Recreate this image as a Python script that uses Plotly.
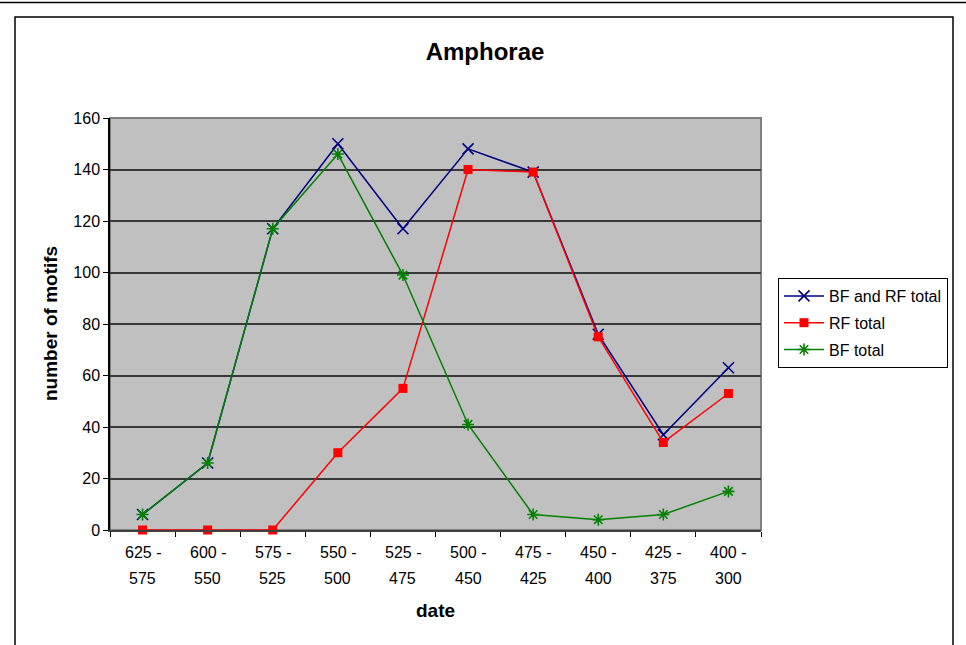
import plotly.graph_objects as go

categories = ["625 - 575", "600 - 550", "575 - 525", "550 - 500", "525 - 475",
              "500 - 450", "475 - 425", "450 - 400", "425 - 375", "400 - 300"]
bf_and_rf_total = [6, 26, 117, 150, 117, 148, 139, 76, 37, 63]
rf_total = [0, 0, 0, 30, 55, 140, 139, 75, 34, 53]
bf_total = [6, 26, 117, 146, 99, 41, 6, 4, 6, 15]
y_ticks = [0, 20, 40, 60, 80, 100, 120, 140, 160]

# body margin is removed by the post script, so figure pixels == screen pixels
W, H = 966, 645
L, R, T, B = 110, 761, 118, 530
pw, ph = R - L, B - T


def px_x(px):
    return (px - L) / pw


def px_y(py):
    return (B - py) / ph


FONT = "Liberation Sans, Arial, sans-serif"

fig = go.Figure()
fig.add_trace(go.Scatter(
    x=categories, y=bf_and_rf_total, name="BF and RF total", mode="lines+markers",
    legendgroup="a", cliponaxis=False,
    line=dict(color="#000080", width=1.5),
    marker=dict(symbol="x-thin-open", size=11, color="#000080", line=dict(width=1.6, color="#000080")),
))
fig.add_trace(go.Scatter(
    x=categories, y=rf_total, name="RF total", mode="lines+markers",
    legendgroup="b", cliponaxis=False,
    line=dict(color="#FF0000", width=1.5),
    marker=dict(symbol="square", size=9, color="#FF0000", line=dict(width=0)),
))
fig.add_trace(go.Scatter(
    x=categories, y=bf_total, name="BF total", mode="lines+markers",
    legendgroup="c", cliponaxis=False,
    line=dict(color="#008000", width=1.5),
    marker=dict(symbol="asterisk-open", size=10, color="#008000", line=dict(width=1.6, color="#008000")),
))

shapes = [
    dict(type="line", xref="paper", yref="paper", x0=px_x(0), x1=px_x(966), y0=px_y(2.5), y1=px_y(2.5),
         line=dict(color="black", width=1.5), layer="above"),
    dict(type="rect", xref="paper", yref="paper", x0=px_x(15), x1=px_x(953), y0=px_y(660), y1=px_y(17),
         line=dict(color="black", width=1.5), layer="below"),
    dict(type="rect", xref="paper", yref="paper", x0=0, x1=1, y0=0, y1=1,
         line=dict(color="#808080", width=2), layer="below"),
]

annotations = [
    dict(text="<b>number of motifs</b>", xref="paper", yref="paper", x=px_x(50), y=px_y(324),
         textangle=-90, showarrow=False, font=dict(family=FONT, size=19, color="black"),
         xanchor="center", yanchor="middle"),
    dict(text="<b>date</b>", xref="paper", yref="paper", x=px_x(435), y=px_y(610),
         showarrow=False, font=dict(family=FONT, size=19, color="black"),
         xanchor="center", yanchor="middle"),
]
for c in categories:
    a, b = c.split(" - ")
    annotations.append(dict(text=a + " -", x=c, xref="x", yref="paper", y=px_y(552), showarrow=False,
                            font=dict(family=FONT, size=16, color="black"), xanchor="center", yanchor="middle"))
    annotations.append(dict(text=b, x=c, xref="x", yref="paper", y=px_y(578), showarrow=False,
                            font=dict(family=FONT, size=16, color="black"), xanchor="center", yanchor="middle"))

fig.update_layout(
    width=W, height=H,
    margin=dict(l=L, r=W - R, t=T, b=H - B, autoexpand=False),
    paper_bgcolor="white",
    plot_bgcolor="#C0C0C0",
    font=dict(family=FONT, size=16, color="black"),
    title=dict(text="<b>Amphorae</b>", x=485 / W, xanchor="center", y=1 - 52 / H,
               yanchor="middle", font=dict(family=FONT, size=24, color="black")),
    showlegend=True,
    legend=dict(x=px_x(778), y=px_y(278), xanchor="left", yanchor="top",
                bordercolor="black", borderwidth=1, bgcolor="white",
                font=dict(family=FONT, size=16, color="black"),
                tracegroupgap=3, itemwidth=40),
    shapes=shapes,
    annotations=annotations,
)
fig.update_xaxes(
    type="category", categoryorder="array", categoryarray=categories,
    range=[-0.5, len(categories) - 0.5],
    tickson="boundaries", ticks="outside", ticklen=5, tickcolor="black", tickwidth=1,
    showticklabels=False, showgrid=False, zeroline=False,
    showline=True, linecolor="#404040", linewidth=2,
)
fig.update_yaxes(
    range=[0, 160], tickvals=y_ticks, ticks="outside", ticklen=5, tickcolor="black", tickwidth=1,
    showgrid=True, gridcolor="#383838", gridwidth=1.5, zeroline=False,
    showline=True, linecolor="black", linewidth=1.5,
    tickfont=dict(family=FONT, size=16, color="black"),
)

fig.write_html(
    "out.html",
    config={"displayModeBar": False},
    post_script="document.body.style.margin='0';document.body.style.overflow='hidden';",
)
